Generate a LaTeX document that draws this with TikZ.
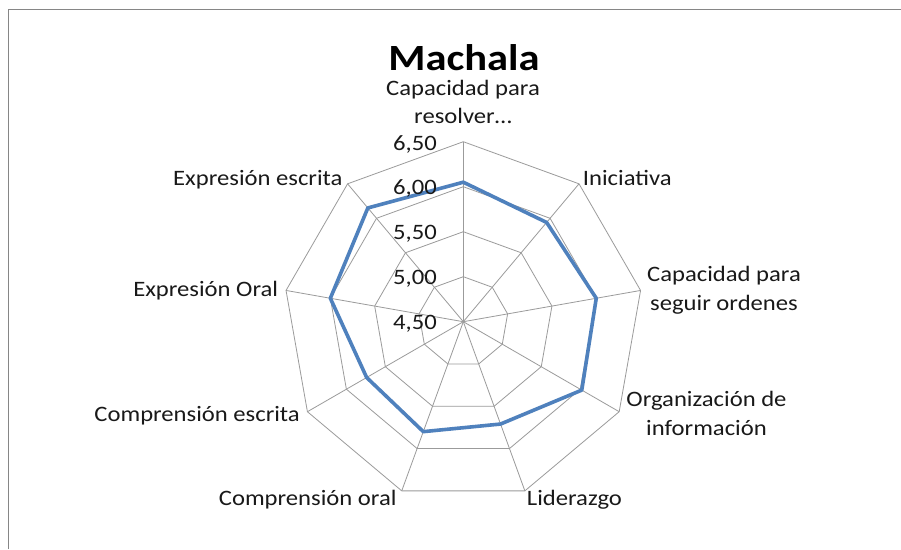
\documentclass[tikz,border=0pt]{standalone}
\usepackage{fontspec}
\setmainfont{Carlito}[FakeStretch=1.12]
\newfontfamily\titlefont{Carlito}[FakeStretch=1.15]
\usetikzlibrary{calc}
\definecolor{gridgray}{RGB}{155,155,155}
\definecolor{framegray}{RGB}{134,134,134}
\definecolor{serieblue}{RGB}{79,129,189}
\begin{document}
\begin{tikzpicture}[x=1pt,y=-1pt,
  lbl/.style={inner sep=0pt, font=\fontsize{22}{29}\selectfont, text=black!90},
  tick/.style={inner sep=0pt, font=\fontsize{22}{29}\selectfont, anchor=base east, text=black!90},
  gridline/.style={gridgray, line width=0.8pt, line join=miter},
  serie/.style={serieblue, line width=3.6pt, line join=round}]
\useasboundingbox (0,0) rectangle (901,549);
\fill[white] (0,0) rectangle (901,549);
\draw[framegray, line width=1.6pt] (8.5,549) -- (8.5,9.5) -- (901,9.5);
\coordinate (O) at (463.3,321.7);
% rings (5,00 5,50 6,00 6,50; centre = 4,50)
\foreach \k in {1,...,4}{
  \draw[gridline] plot[samples at={0,...,8}] ([shift={(O)}]40*\x-90:45*\k) -- cycle;
}
% spokes
\foreach \i in {0,...,8}{
  \coordinate (v\i) at ([shift={(O)}]40*\i-90:180);
  \draw[gridline] (O) -- (v\i);
}
% data
\foreach \v [count=\i from 0] in {6.05,5.94,6.00,6.02,5.71,5.80,5.74,6.00,6.15}{
  \coordinate (d\i) at ([shift={(O)}]40*\i-90:{(\v-4.5)*90});
}
\draw[serie] (d0)--(d1)--(d2)--(d3)--(d4)--(d5)--(d6)--(d7)--(d8)--cycle;
% tick labels
\node[tick] (t650) at (437,150.7) {6,50};
\node[tick] (t600) at (437,194) {6,00};
\node[tick] (t550) at (437,239.3) {5,50};
\node[tick] (t500) at (437,284) {5,00};
\node[tick] (t450) at (437,329) {4,50};
% title
\node[inner sep=0pt, anchor=base, font=\titlefont\bfseries\fontsize{37}{44}\selectfont] (title) at (464,70.7) {Machala};
% axis labels
\node[lbl, anchor=base] (l0a) at (463,95) {Capacidad para};
\node[lbl, anchor=base] (l0b) at (463,123.3) {resolver…};
\node[lbl, anchor=base west] (l1) at (582.7,185) {Iniciativa};
\node[lbl, anchor=base] (l2a) at (724,281.7) {Capacidad para};
\node[lbl, anchor=base] (l2b) at (724,310) {seguir ordenes};
\node[lbl, anchor=base] (l3a) at (706.5,406.7) {Organización de};
\node[lbl, anchor=base] (l3b) at (706.5,435) {información};
\node[lbl, anchor=base west] (l4) at (526.7,505) {Liderazgo};
\node[lbl, anchor=base east] (l5) at (396.7,505) {Comprensión oral};
\node[lbl, anchor=base east] (l6) at (300,421.7) {Comprensión escrita};
\node[lbl, anchor=base east] (l7) at (278.3,296.7) {Expresión Oral};
\node[lbl, anchor=base east] (l8) at (342.7,185) {Expresión escrita};
\end{tikzpicture}
\end{document}
